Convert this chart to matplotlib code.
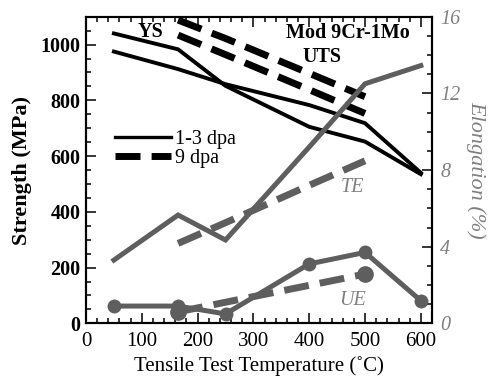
import matplotlib
matplotlib.use('Agg')
import matplotlib.pyplot as plt
from matplotlib.lines import Line2D
from matplotlib.ticker import MultipleLocator

plt.rcParams['font.family'] = ['Liberation Serif', 'DejaVu Serif']
plt.rcParams['mathtext.fontset'] = 'stix'

# ---- data ----
temp_13 = [50, 165, 250, 400, 500, 600]
str_a_13 = [1040, 983, 852, 705, 652, 535]
str_b_13 = [975, 912, 858, 783, 718, 540]

temp_9 = [165, 250, 400, 500]
str_upper_9 = [1088, 1022, 897, 813]
str_lower_9 = [1034, 964, 838, 753]

te_13 = [3.3, 5.65, 4.35, 9.2, 12.5, 13.45]
ue_13 = [0.9, 0.9, 0.49, 3.1, 3.7, 1.18]

te_9 = [4.17, 5.25, 7.2, 8.48]
ue_9_temp = [165, 500]
ue_9 = [0.6, 2.57]

gray = '#5e5e5e'
dash = (3.6, 1.6)

fig = plt.figure(figsize=(4.9, 3.86), dpi=100)
ax = fig.add_axes([0.1755, 0.1624, 0.7061, 0.7943])
ax2 = ax.twinx()

# strength (left axis)
ax.plot(temp_13, str_a_13, color='black', lw=2.8, solid_joinstyle='miter')
ax.plot(temp_13, str_b_13, color='black', lw=2.8, solid_joinstyle='miter')
ax.plot(temp_9, str_upper_9, color='black', lw=5, dashes=dash, dash_capstyle='butt')
ax.plot(temp_9, str_lower_9, color='black', lw=5, dashes=dash, dash_capstyle='butt')

# elongation (right axis)
ax2.plot(temp_13, te_13, color=gray, lw=3.6, solid_joinstyle='miter')
ax2.plot(temp_13, ue_13, color=gray, lw=3.6, marker='o', ms=9)
ax2.plot(temp_9, te_9, color=gray, lw=5, dashes=dash, dash_capstyle='butt')
ax2.plot(ue_9_temp, ue_9, color=gray, lw=5, dashes=dash, dash_capstyle='butt')
ax2.plot(ue_9_temp, ue_9, color=gray, lw=0, marker='o', ms=11)

ax.set_xlim(0, 620)
ax.set_ylim(0, 1100)
ax2.set_ylim(0, 16)

ax.xaxis.set_major_locator(MultipleLocator(100))
ax.xaxis.set_minor_locator(MultipleLocator(20))
ax.yaxis.set_major_locator(MultipleLocator(200))
ax.yaxis.set_minor_locator(MultipleLocator(50))
ax2.yaxis.set_major_locator(MultipleLocator(4))
ax2.yaxis.set_minor_locator(MultipleLocator(1))

ax.tick_params(which='both', direction='in', top=True, right=False, width=1.1)
ax.tick_params(which='major', length=7)
ax.tick_params(which='minor', length=3.5)
ax.tick_params(axis='x', labelsize=15, pad=6)
ax.tick_params(axis='y', labelsize=14.5, pad=4)
for t in ax.get_yticklabels():
    t.set_fontweight('bold')
ax2.tick_params(which='both', direction='in', width=1.1, labelsize=14.5,
                labelcolor='#808080', pad=6)
ax2.tick_params(which='major', length=7)
ax2.tick_params(which='minor', length=3.5)
for t in ax2.get_yticklabels():
    t.set_fontstyle('italic')
for s in list(ax.spines.values()) + list(ax2.spines.values()):
    s.set_linewidth(1.5)

ax.set_xlabel('Tensile Test Temperature (\u02daC)', fontsize=15, labelpad=4)
ax.set_ylabel('Strength (MPa)', fontsize=16, fontweight='bold', labelpad=6)
ax2.set_ylabel('Elongation (%)', fontsize=16, fontstyle='italic', color='#808080',
               rotation=270, labelpad=18)

ax.text(115, 1045, 'YS', fontsize=14.5, fontweight='bold', ha='center', va='center')
ax.text(470, 1040, 'Mod 9Cr-1Mo', fontsize=14.5, fontweight='bold', ha='center', va='center')
ax.text(422, 956, 'UTS', fontsize=14.5, fontweight='bold', ha='center', va='center')
ax2.text(478, 7.1, 'TE', fontsize=14.5, fontstyle='italic', color='#808080', ha='center', va='center')
ax2.text(478, 1.2, 'UE', fontsize=14.5, fontstyle='italic', color='#808080', ha='center', va='center')

handles = [Line2D([], [], color='black', lw=2.4),
           Line2D([], [], color='black', lw=5, dashes=dash, dash_capstyle='butt')]
ax.legend(handles, ['1-3 dpa', '9 dpa'], loc='center left', bbox_to_anchor=(0.084, 0.568),
          frameon=False, fontsize=14.5, handlelength=2.8, handletextpad=0.2,
          labelspacing=0.0, borderpad=0, borderaxespad=0)

fig.savefig('out.png', dpi=100)
